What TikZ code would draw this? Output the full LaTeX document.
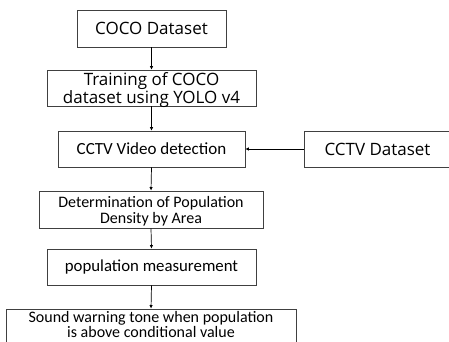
\documentclass[tikz,border=0pt]{standalone}
\usepackage{fontspec}
\setmainfont{Carlito}
\newfontfamily\upfont{Open Sans}
\usetikzlibrary{arrows.meta}
\begin{document}
\begin{tikzpicture}[x=1pt,y=-1pt,
  box/.style={draw=black!75, line width=0.8pt, inner sep=0pt, align=center, anchor=center},
  txt/.style={inner sep=0pt, align=center},
  upf/.style={font=\upfont\fontsize{17}{16.5}\selectfont},
  lof/.style={font=\fontsize{#1}{16.2}\selectfont},
  arr/.style={draw=black, line width=0.7pt, -{Latex[length=3.5pt,width=3.5pt]}}]
\useasboundingbox (0,0) rectangle (449,342);
\clip (0,0) rectangle (449,342);
\node[box, upf, minimum width=149pt, minimum height=37pt] (b1) at (151.5,28.5) {COCO Dataset};
\node[box, minimum width=209pt, minimum height=36pt] (b2) at (151.5,88) {};
\node[txt, upf] (t2) at (151.5,90) {Training of COCO\\dataset using YOLO v4};
\node[box, lof=17, minimum width=187pt, minimum height=36pt] (b3) at (151.5,149) {CCTV Video detection};
\node[box, upf, minimum width=147pt, minimum height=36pt] (cd) at (377.5,149) {CCTV Dataset};
\node[box, minimum width=224pt, minimum height=37pt] (b4) at (151,209.5) {};
\node[txt, lof=16] (t4) at (151,211) {Determination of Population\\Density by Area};
\node[box, lof=16.8, minimum width=209pt, minimum height=36pt] (b5) at (151.5,267) {population measurement};
\node[box, minimum width=290pt, minimum height=50pt] (b6) at (151,334) {};
\node[txt, font=\fontsize{16}{15.8}\selectfont] (t6) at (151,324.5) {Sound warning tone when population\\is above conditional value};
\draw[arr] (b1.south) -- (b2.north);
\draw[arr] (b2.south) -- (b3.north);
\draw[arr] (b3.south) -- (b4.north);
\draw[arr] (b4.south) -- (b5.north);
\draw[arr] (b5.south) -- (b6.north);
\draw[arr] (cd.west) -- (b3.east);
\end{tikzpicture}
\end{document}
